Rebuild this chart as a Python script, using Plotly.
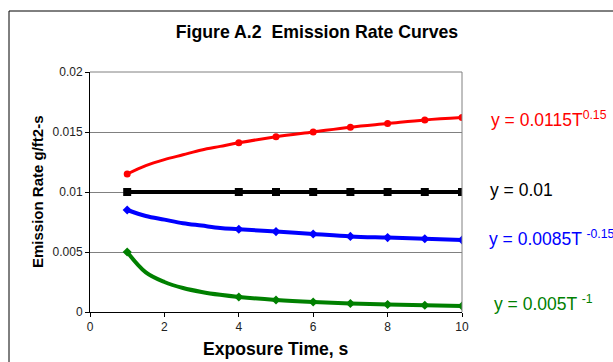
import plotly.graph_objects as go

# Marker data
exposure_time = [1, 4, 5, 6, 7, 8, 9, 10]
red_rate = [0.0115, 0.0141, 0.0146, 0.0150, 0.0154, 0.0157, 0.0160, 0.0162]
black_rate = [0.01, 0.01, 0.01, 0.01, 0.01, 0.01, 0.01, 0.01]
blue_rate = [0.0085, 0.0069, 0.0067, 0.0065, 0.0063, 0.0062, 0.0061, 0.0060]
green_rate = [0.005, 0.00125, 0.0010, 0.00083, 0.00071, 0.00063, 0.00056, 0.0005]

# Smooth-curve points
curve_time = [1, 1.5, 2, 2.5, 3, 3.5, 4, 5, 6, 7, 8, 9, 10]
red_curve = [0.0115, 0.0122, 0.0127, 0.0131, 0.0135, 0.0138, 0.0141, 0.0146, 0.0150, 0.0154, 0.0157, 0.0160, 0.0162]
black_curve = [0.01] * 13
blue_curve = [0.0085, 0.0080, 0.0077, 0.0074, 0.0072, 0.0070, 0.0069, 0.0067, 0.0065, 0.0063, 0.0062, 0.0061, 0.0060]
green_curve = [0.005, 0.0033, 0.0025, 0.0020, 0.00167, 0.00143, 0.00125, 0.0010, 0.00083, 0.00071, 0.00063, 0.00056, 0.0005]

x_ticks = [0, 2, 4, 6, 8, 10]
y_ticks = [0, 0.005, 0.01, 0.015, 0.02]
y_ticktext = ["0", "0.005", "0.01", "0.015", "0.02"]

labels = ["y = 0.0115T<sup>0.15</sup>", "y = 0.01",
          "y = 0.0085T <sup>-0.15</sup>", "y = 0.005T <sup>-1</sup>"]

FONT = "Liberation Sans, Arial, sans-serif"

series = [
    (red_curve, red_rate, "#FF0000", 3, "circle", 7),
    (black_curve, black_rate, "#000000", 4, "square", 8),
    (blue_curve, blue_rate, "#0000FF", 4, "diamond", 7),
    (green_curve, green_rate, "#008000", 4, "diamond", 7),
]

fig = go.Figure()
for curve, pts, col, lw, sym, ms in series:
    fig.add_trace(go.Scatter(x=curve_time, y=curve, mode="lines",
                             line=dict(color=col, width=lw, shape="spline"),
                             hoverinfo="skip"))
    fig.add_trace(go.Scatter(x=exposure_time, y=pts, mode="markers",
                             marker=dict(symbol=sym, size=ms, color=col)))

fig.update_layout(
    width=613, height=362,
    margin=dict(l=90, r=151, t=72, b=50),
    paper_bgcolor="white", plot_bgcolor="white",
    showlegend=False,
    font=dict(family=FONT, color="#000000"),
    title=dict(text="<b>Figure A.2\u00a0 Emission Rate Curves</b>",
               x=317 / 613, xanchor="center", y=1 - 32 / 362, yanchor="middle",
               font=dict(size=17.7, family=FONT, color="#000000")),
)
fig.update_xaxes(range=[0, 10], tickvals=x_ticks, showgrid=False, zeroline=False,
                 showline=True, linecolor="#000000", linewidth=1,
                 ticks="outside", ticklen=4, tickcolor="#000000",
                 tickfont=dict(size=12, family=FONT, color="#222222"))
fig.update_yaxes(range=[0, 0.02], tickvals=y_ticks, ticktext=y_ticktext,
                 showgrid=True, gridcolor="#808080", gridwidth=1, zeroline=False,
                 showline=True, linecolor="#000000", linewidth=1,
                 ticks="outside", ticklen=4, tickcolor="#000000",
                 tickfont=dict(size=12, family=FONT, color="#222222"))

# plot area top/right border (gray)
fig.add_shape(type="line", xref="paper", yref="paper", x0=0, x1=1, y0=1, y1=1,
              line=dict(color="#808080", width=1))
fig.add_shape(type="line", xref="paper", yref="paper", x0=1, x1=1, y0=0, y1=1,
              line=dict(color="#808080", width=1))
# outer chart frame (left and top edges visible)
fig.add_shape(type="line", xref="paper", yref="paper",
              x0=(9 - 90) / 372, x1=(9 - 90) / 372, y0=(312 - 370) / 240, y1=1 + (72 - 11) / 240,
              line=dict(color="#000000", width=1))
fig.add_shape(type="line", xref="paper", yref="paper",
              x0=(9 - 90) / 372, x1=(620 - 90) / 372, y0=1 + (72 - 11) / 240, y1=1 + (72 - 11) / 240,
              line=dict(color="#000000", width=1))

# axis titles
fig.add_annotation(text="<b>Emission Rate g/ft2-s</b>", xref="paper", yref="paper",
                   x=(37 - 90) / 372, y=(312 - 191) / 240, textangle=-90, showarrow=False,
                   xanchor="center", yanchor="middle",
                   font=dict(size=15, family=FONT, color="#000000"))
fig.add_annotation(text="<b>Exposure Time, s</b>", xref="paper", yref="paper",
                   x=(276 - 90) / 372, y=(312 - 349) / 240, showarrow=False,
                   xanchor="center", yanchor="middle",
                   font=dict(size=17.6, family=FONT, color="#000000"))

# equation labels
label_pos = [((489 - 90) / 372, (312 - 119) / 240, "#FF0000"),
             ((488 - 90) / 372, (312 - 190) / 240, "#000000"),
             ((487 - 90) / 372, (312 - 238) / 240, "#0000FF"),
             ((492 - 90) / 372, (312 - 303) / 240, "#008000")]
for txt, (lx, ly, col) in zip(labels, label_pos):
    fig.add_annotation(text=txt, xref="paper", yref="paper", x=lx, y=ly,
                       showarrow=False, xanchor="left", yanchor="middle",
                       font=dict(size=17.5, family=FONT, color=col))

fig.write_html("out.html")
